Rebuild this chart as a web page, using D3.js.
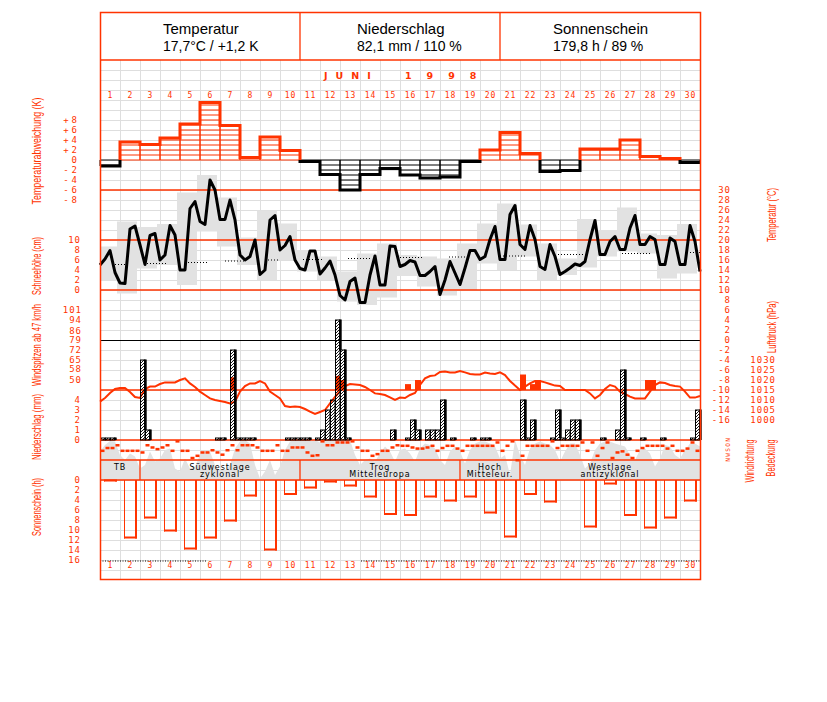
<!DOCTYPE html>
<html><head><meta charset="utf-8">
<script src="https://cdn.jsdelivr.net/npm/d3@7"></script>
<style>body{margin:0;background:#fff}svg{display:block}</style>
</head><body><svg id="c" width="827" height="702"></svg>
<script>
// ---------------- DATA ----------------
const dayLabels = d3.range(1, 31).map(String);
const tempDev = [-1.2, 3.6, 3.1, 4.4, 7.2, 11.5, 6.9, 0.5, 4.6, 1.9, -0.3, -2.9, -6.0, -2.9, -1.7, -3.0, -3.6, -3.4, -0.3, 2.0, 5.5, 1.3, -2.3, -2.1, 2.2, 2.2, 4.0, 0.7, 0.3, -0.5];
const temp6h = [
 15.0,16.2,17.9,13.5, 11.4,11.3,22.2,22.8, 19.0,15.1,20.9,21.3, 16.0,17.0,22.9,21.0, 14.0,14.0,26.3,27.7,
 23.7,23.1,32.0,30.0, 24.1,24.1,28.0,24.0, 17.0,16.0,16.7,20.0, 13.1,14.0,24.0,24.9, 18.0,18.9,20.7,16.0,
 14.3,14.0,17.8,17.8, 13.2,14.4,15.8,13.0, 8.9,8.0,11.7,12.4, 7.5,7.5,13.0,16.8, 11.0,11.0,18.8,18.7,
 14.7,15.1,15.9,15.6, 12.9,12.9,13.7,14.7, 9.1,12.0,15.7,13.4, 11.1,14.4,17.9,17.9, 16.1,16.7,20.1,22.7,
 16.1,16.1,25.1,26.9, 19.1,18.1,22.9,20.1, 14.7,14.1,19.1,16.7, 13.1,13.7,14.4,15.2, 14.9,15.7,20.1,23.9,
 17.1,17.1,19.7,20.7, 18.1,18.1,22.4,24.9, 19.1,19.1,20.7,20.1, 15.1,15.1,20.4,19.7, 15.1,15.1,22.9,19.7,
 13.7];
const tMax = [18.7, 23.7, 22.6, 23.2, 29.5, 33.0, 28.5, 20.5, 25.9, 23.3, 18.0, 16.7, 13.7, 17.3, 19.3, 17.0, 16.7, 16.3, 19.3, 23.3, 27.3, 23.1, 19.3, 16.3, 24.2, 22.0, 26.5, 21.3, 21.0, 23.2];
const tMin = [11.9, 9.3, 14.3, 15.0, 11.0, 21.7, 18.7, 15.0, 12.0, 16.0, 13.7, 12.0, 7.7, 7.0, 8.5, 12.8, 10.7, 8.9, 10.0, 15.3, 14.0, 16.7, 12.0, 13.0, 14.5, 16.7, 17.7, 17.3, 12.3, 13.3];
const normFrom = [0.6, 2.35, 4.4, 6.25, 8.4, 10.15, 12.4, 15.0, 17.45, 20.0, 22.9, 26.1, 29.5];
const normTo   = [1.35, 3.4, 5.35, 7.25, 9.0, 11.15, 13.6, 16.1, 18.5, 21.3, 24.25, 27.6, 30.0];
const normVal  = [15.2, 15.4, 15.6, 15.9, 16.1, 16.2, 16.4, 16.6, 16.7, 16.9, 17.2, 17.4, 17.6];
const precip6h = [
 0.2,0.2,0.2,0, 0,0,0,0, 8,1,0,0, 0,0,0,0, 0,0,0,0,
 0,0,0,0.2, 0.2,0,9,0.2, 0.2,0.2,0.2,0, 0,0,0,0, 0,0.2,0.2,0.2,
 0.2,0.2,0,0.2, 1,3,4,12, 9,0.2,0,0, 0,0,0,0, 0,0,1,0,
 0,0.2,2,1, 0,1,1,1, 4,0,0.2,0, 0,0,0.2,0, 0.2,0.2,0,0,
 0,0,0,0, 4,0.2,2,0, 0,0,0.2,3, 0.2,1,2,2, 0,0,0,0,
 0.2,0,0,1, 7,0.2,0,0, 0.2,0,0,0, 0.2,0,0,0, 0,0,0.2,3];
const gustIdx = [26, 47, 48, 61, 63, 84, 86, 87, 109, 110];
const gustKmh = [52, 53, 50, 47, 50, 54, 47, 50, 50, 50];
const pressure6h = [
 1009.2,1011,1013.5,1015.5,1016,1016,1014,1011.5,1011,1015.5,
 1016.7,1016.7,1018,1018.8,1018.8,1018.8,1020,1020.8,1018.3,1016.5,
 1014.2,1012.5,1010.8,1010,1009.5,1009,1008.3,1009.2,1014.2,1017,
 1018.3,1018.3,1019.5,1018.3,1014.2,1012.5,1010.8,1007,1006.5,1006.7,
 1006.5,1005.5,1004.2,1003,1004,1005,1008.3,1011.5,1014.5,1017,
 1018,1017.8,1017.5,1016.5,1015,1013.3,1013,1012.5,1011.3,1010,
 1011.2,1011,1012.5,1013.5,1017.5,1020.8,1022,1022.3,1024,1024.3,
 1023.8,1023.8,1024.5,1023.8,1023,1022.8,1022.8,1023.7,1023.3,1023,
 1023.8,1022.5,1019.5,1017.2,1015,1016.7,1018.3,1019.5,1019.5,1018.8,
 1018,1017.2,1017,1015,1015,1015,1015,1015,1013.3,1010.8,
 1012.5,1015.5,1017.5,1016.7,1014.2,1013,1011.7,1010.8,1010.8,1010.8,
 1014.2,1017.5,1018.8,1018.5,1017.5,1017,1016.7,1014.2,1011.2,1011.2,
 1012];
const windDir6h = [
 190,140,140,90, 190,190,190,190, 220,90,130,160, 130,90,190,20, 190,190,320,280,
 220,220,180,220, 260,180,90,180, 90,90,90,130, 190,190,190,90, 190,190,130,130,
 130,220,280,270, 20,90,90,40, 40,40,20,130, 190,190,280,250, 190,190,130,90,
 100,100,130,150, 150,130,100,190, 140,100,100,150, 190,100,100,100, 100,100,100,40,
 190,100,20,360, 280,100,100,100, 100,100,20,140, 100,100,100,100, 40,190,40,280,
 140,40,320,220, 200,260,320,190, 140,100,100,100, 100,150,100,190, 190,150,40,190];
const cloud6h = [
 5.7,7,7.8,7.7,5,4,5.3,4.7,2.3,3, 5.7,3.7,4.3,6,6.3,2.3,1.7,4.3,2.3,2.7,
 5,6,5.7,3,1.7,2,3,6.3,7.7,8, 7.3,3,0.3,1.7,4,1,2.7,6,7.7,8,
 8,8,7.8,8,7.5,8,8,8,8,8, 8,5,3,4,4.3,3.7,5.3,6.7,5.7,3.7,
 6,6.3,5.3,3.7,6.3,7.3,7,6.3,4,3, 5.7,6.7,5.7,3.3,6,7.3,7.7,7.7,7.3,6.7,
 4.3,5,1,8,5,3,6.3,7.3,7.7,7.3, 7,6,3.7,5.7,7.3,7.3,5,2.3,3.3,6,
 7.3,7.7,7.7,7.3,7,6.7,5,4,6,6.3, 5.3,2.7,4.3,7,6.7,5,4.3,6,7.3,7.3,
 6.7];
const sunshine = [0.3, 11.7, 7.7, 10.3, 13.9, 11.7, 8.3, 3.3, 14.1, 3.0, 1.7, 0.5, 1.3, 3.5, 7.0, 7.2, 3.5, 4.3, 3.5, 6.7, 11.5, 3.0, 4.5, 0, 9.5, 0.9, 7.2, 9.7, 7.7, 4.3];
const sunMaxFrom = [0, 13.05], sunMaxTo = [5.3, 30], sunMaxVal = 16.2;
const wtLine1 = ["TB", "Südwestlage", "Trog", "Hoch", "Westlage"];
const wtLine2 = ["", "zyklonal", "Mitteleuropa", "Mitteleur.", "antizyklonal"];
const wtStart = [1, 3, 11, 19, 22];
const wtEnd = [2, 10, 18, 21, 30];
const devTicks = [8, 6, 4, 2, 0, -2, -4, -6, -8];
const snowTicks = [10, 8, 6, 4, 2, 0];
const gustTicks = [101, 94, 86, 79, 72, 65, 58, 50];
const precipTicks = [4, 3, 2, 1, 0];
const sunTicks = [0, 2, 4, 6, 8, 10, 12, 14, 16];
const tempTicks = d3.range(30, -17, -2);
const pressTicks = [1030, 1025, 1020, 1015, 1010, 1005, 1000];
const dirLetters = ["N", "O", "S", "W", "N"];
const headTitle = ["Temperatur", "Niederschlag", "Sonnenschein"];
const headValue = ["17,7°C / +1,2 K", "82,1 mm / 110 %", "179,8 h / 89 %"];

// ---------------- SCALES ----------------
const RED = "#ff3300", GRID = "#dedede", BOX = "#e2e2e2";
const MONO = "'DejaVu Sans Mono', monospace";
const svg = d3.select("#c");
const x = d3.scaleLinear().domain([0, 30]).range([100, 700]);
const yDev = d3.scaleLinear().domain([0, 8]).range([160, 120]);
const yT = d3.scaleLinear().domain([30, -16]).range([190, 420]);
const ySnow = d3.scaleLinear().domain([0, 10]).range([290, 240]);
const yGust = d3.scaleLinear().domain([50, 101]).range([380, 310]);
const yPr = d3.scaleLinear().domain([0, 4]).range([440, 400]);
const yP = d3.scaleLinear().domain([1000, 1030]).range([420, 360]);
const yCl = d3.scaleLinear().domain([0, 8]).range([480, 440]);
const yDir = d3.scaleLinear().domain([0, 360]).range([440, 460]);
const ySun = d3.scaleLinear().domain([0, 16]).range([480, 560]);
const xi = i => x(i / 4);

svg.append("rect").attr("width", 827).attr("height", 702).attr("fill", "#fff");
const defs = svg.append("defs");
const pat = defs.append("pattern").attr("id", "hatch").attr("patternUnits", "userSpaceOnUse").attr("width", 3).attr("height", 3);
pat.append("path").attr("d", "M-0.75,0.75L0.75,-0.75M0,3L3,0M2.25,3.75L3.75,2.25").attr("stroke", "#000").attr("stroke-width", 0.9);
defs.append("clipPath").attr("id", "above").append("rect").attr("x", 0).attr("y", 0).attr("width", 827).attr("height", 160);
defs.append("clipPath").attr("id", "below").append("rect").attr("x", 0).attr("y", 160).attr("width", 827).attr("height", 200);

// ---------------- GRID ----------------
const grid = svg.append("g").attr("stroke", GRID).attr("stroke-width", 1);
d3.range(1, 30).forEach(d => grid.append("line").attr("x1", x(d) + 0.5).attr("x2", x(d) + 0.5).attr("y1", 60).attr("y2", 580));
d3.range(70, 580, 10).forEach(y => grid.append("line").attr("x1", 100).attr("x2", 700).attr("y1", y + 0.5).attr("y2", y + 0.5));

// ---------------- TEMPERATURE BOXES ----------------
svg.append("g").selectAll("rect").data(tMax).join("rect")
  .attr("x", (d, i) => Math.max(100, x(i) - 3))
  .attr("width", (d, i) => x(i + 1) - 3 - Math.max(100, x(i) - 3))
  .attr("y", d => yT(d))
  .attr("height", (d, i) => yT(tMin[i]) - yT(d))
  .attr("fill", BOX);

// ---------------- CLOUD COVER ----------------
svg.append("path").datum(cloud6h)
  .attr("d", d3.area().x((d, i) => xi(i)).y0(480).y1(d => yCl(d)))
  .attr("fill", BOX);

// ---------------- RED REFERENCE LINES ----------------
const redL = svg.append("g").attr("stroke", RED).attr("stroke-width", 1.3);
[yT(30), yT(20), yT(10), yT(-10), yPr(0), 460, 480, 60].forEach(y =>
  redL.append("line").attr("x1", 100).attr("x2", 700).attr("y1", y).attr("y2", y));
svg.append("line").attr("x1", 100).attr("x2", 700).attr("y1", yT(0) + 0.5).attr("y2", yT(0) + 0.5).attr("stroke", "#000").attr("stroke-width", 1);

// ---------------- TEMPERATURE DEVIATION ----------------
const devG = svg.append("g");
tempDev.forEach((v, i) => {
  const col = v >= 0 ? RED : "#000";
  const s = v >= 0 ? 1 : -1;
  const n = Math.floor(Math.abs(v) + 1e-9);
  for (let k = 0; k <= n; k++) {
    devG.append("line").attr("x1", x(i)).attr("x2", x(i + 1)).attr("y1", yDev(s * k)).attr("y2", yDev(s * k)).attr("stroke", col).attr("stroke-width", 1);
  }
  [x(i), x(i + 1)].forEach(xx => devG.append("line").attr("x1", xx).attr("x2", xx).attr("y1", yDev(0)).attr("y2", yDev(v)).attr("stroke", col).attr("stroke-width", 1));
});
const stepPts = [];
tempDev.forEach((v, i) => { stepPts.push([x(i), yDev(v)]); stepPts.push([x(i + 1), yDev(v)]); });
const stepLine = d3.line();
devG.append("path").attr("d", stepLine(stepPts)).attr("fill", "none").attr("stroke", RED).attr("stroke-width", 3).attr("clip-path", "url(#above)");
devG.append("path").attr("d", stepLine(stepPts)).attr("fill", "none").attr("stroke", "#000").attr("stroke-width", 3).attr("clip-path", "url(#below)");

// ---------------- NORMALS + TEMPERATURE LINE ----------------
normVal.forEach((v, i) => svg.append("line").attr("x1", x(normFrom[i])).attr("x2", x(normTo[i]))
  .attr("y1", yT(v) + 0.5).attr("y2", yT(v) + 0.5).attr("stroke", "#000").attr("stroke-width", 1).attr("stroke-dasharray", "1,2"));
svg.append("path").datum(temp6h)
  .attr("d", d3.line().x((d, i) => xi(i)).y(d => yT(d)))
  .attr("fill", "none").attr("stroke", "#000").attr("stroke-width", 3).attr("stroke-linejoin", "round");

// ---------------- GUSTS, PRESSURE, PRECIPITATION ----------------
gustIdx.forEach((idx, k) => svg.append("rect").attr("x", xi(idx)).attr("width", 6)
  .attr("y", yGust(gustKmh[k])).attr("height", yT(-10) - yGust(gustKmh[k])).attr("fill", RED));
svg.append("path").datum(pressure6h)
  .attr("d", d3.line().x((d, i) => xi(i)).y(d => yP(d)))
  .attr("fill", "none").attr("stroke", RED).attr("stroke-width", 2);
const prG = svg.append("g");
precip6h.forEach((v, i) => {
  if (v <= 0) return;
  prG.append("rect").attr("x", xi(i) + 0.5).attr("width", 4.5).attr("y", yPr(v)).attr("height", yPr(0) - yPr(v))
    .attr("fill", "url(#hatch)").attr("stroke", "#000").attr("stroke-width", 1);
});
precip6h.forEach((v, i) => {
  const nx = precip6h[i + 1] || 0;
  if (v <= 0 || nx >= v) return;
  prG.append("rect").attr("x", xi(i) + 4).attr("width", 2.7).attr("y", yPr(v) - 0.5).attr("height", yPr(nx) - yPr(v) + 0.5).attr("fill", "#000");
});

// ---------------- WIND DIRECTION ----------------
svg.append("g").selectAll("rect").data(windDir6h).join("rect")
  .attr("x", (d, i) => xi(i) + 0.5).attr("y", d => yDir(d) - 1).attr("width", 4).attr("height", 2.5).attr("fill", RED);

// ---------------- WEATHER TYPES ----------------
const wtG = svg.append("g");
wtStart.forEach((s, k) => {
  if (k > 0) wtG.append("line").attr("x1", x(s - 1)).attr("x2", x(s - 1)).attr("y1", 460).attr("y2", 480).attr("stroke", RED).attr("stroke-width", 1.3);
  const cx = (x(s - 1) + x(wtEnd[k])) / 2;
  wtG.append("text").attr("x", cx).attr("y", 469.5).attr("text-anchor", "middle").attr("font-family", "'DejaVu Sans', sans-serif").attr("font-size", 8).attr("letter-spacing", 0.9).text(wtLine1[k]);
  if (wtLine2[k]) wtG.append("text").attr("x", cx).attr("y", 477).attr("text-anchor", "middle").attr("font-family", "'DejaVu Sans', sans-serif").attr("font-size", 8).attr("letter-spacing", 0.9).text(wtLine2[k]);
});

// ---------------- SUNSHINE ----------------
const sunG = svg.append("g").attr("fill", RED);
sunshine.forEach((h, i) => {
  if (h <= 0) return;
  const x0 = x(i) + 4, x1 = x(i) + 17, yb = ySun(h);
  sunG.append("rect").attr("x", x0).attr("y", 480).attr("width", 1).attr("height", yb - 480);
  sunG.append("rect").attr("x", x1 - 2).attr("y", 480).attr("width", 2).attr("height", yb - 480);
  sunG.append("rect").attr("x", x0).attr("y", yb - 2).attr("width", x1 - x0).attr("height", 2);
});
sunMaxFrom.forEach((f, k) => svg.append("line").attr("x1", x(f)).attr("x2", x(sunMaxTo[k]))
  .attr("y1", ySun(sunMaxVal)).attr("y2", ySun(sunMaxVal)).attr("stroke", "#000").attr("stroke-width", 1).attr("stroke-dasharray", "1,1.5"));

// ---------------- FRAME + HEADER ----------------
svg.append("rect").attr("x", 100.5).attr("y", 12.5).attr("width", 600).attr("height", 567).attr("fill", "none").attr("stroke", RED).attr("stroke-width", 1.5);
[300, 500].forEach(xx => svg.append("line").attr("x1", xx).attr("x2", xx).attr("y1", 12).attr("y2", 60).attr("stroke", RED).attr("stroke-width", 1.3));
const hx = [163, 357, 553];
headTitle.forEach((t, k) => {
  svg.append("text").attr("x", hx[k]).attr("y", 34).attr("font-family", "'Liberation Sans', Arial, sans-serif").attr("font-size", 15).attr("fill", "#000").text(t);
  svg.append("text").attr("x", hx[k]).attr("y", 51).attr("font-family", "'Liberation Sans', Arial, sans-serif").attr("font-size", 14).attr("fill", "#000").text(headValue[k]);
});

// month title
svg.append("text").attr("x", 324).attr("y", 78.5).attr("font-family", "'DejaVu Sans', sans-serif").attr("font-weight", "bold").attr("font-size", 9.5).attr("letter-spacing", 8).attr("fill", RED).text("JUNI");
svg.append("text").attr("x", 405).attr("y", 78.5).attr("font-family", "'DejaVu Sans', sans-serif").attr("font-weight", "bold").attr("font-size", 9.5).attr("letter-spacing", 15).attr("fill", RED).text("1998");

// day labels
[95, 565].forEach(yy => svg.append("g").selectAll("text").data(dayLabels).join("text")
  .attr("x", (d, i) => x(i + 0.5) + 0.5).attr("y", yy).attr("dy", "0.35em").attr("text-anchor", "middle")
  .attr("font-family", MONO).attr("font-size", 8).attr("letter-spacing", 1).attr("fill", RED).text(d => d));

// ---------------- TICK LABELS ----------------
function ticks(vals, scale, xx, fmt, ls) {
  svg.append("g").selectAll("text").data(vals).join("text")
    .attr("x", xx).attr("y", d => scale(d)).attr("dy", "0.36em").attr("text-anchor", "end")
    .attr("font-family", MONO).attr("font-size", 9).attr("letter-spacing", ls == null ? 1 : ls).attr("fill", RED)
    .text(fmt || (d => String(d)));
}
ticks(devTicks, yDev, 80, d => d > 0 ? "+" + d : d < 0 ? "-" + (-d) : "0", 3);
ticks(snowTicks, ySnow, 81);
ticks(gustTicks, yGust, 82);
ticks(precipTicks, yPr, 81);
ticks(sunTicks, ySun, 81);
ticks(tempTicks, yT, 731);
ticks(pressTicks, yP, 776);

// direction letters
dirLetters.forEach((l, k) => svg.append("text").attr("transform", `translate(728,${yDir(k * 90)}) rotate(-90)`)
  .attr("text-anchor", "middle").attr("dy", "0.35em").attr("font-family", MONO).attr("font-size", 6).attr("fill", RED).text(l));

// rotated axis titles
function vlabel(t, cx, cy, len) {
  svg.append("text").attr("transform", `translate(${cx},${cy}) rotate(-90)`).attr("text-anchor", "middle").attr("dy", "0.35em")
    .attr("font-family", "'Liberation Sans', Arial, sans-serif").attr("font-size", 12).attr("fill", RED)
    .attr("textLength", len).attr("lengthAdjust", "spacingAndGlyphs").text(t);
}
vlabel("Temperaturabweichung (K)", 37, 151, 107);
vlabel("Schneehöhe (cm)", 37, 266, 58);
vlabel("Windspitzen ab 47 km/h", 37, 345, 82);
vlabel("Niederschlag (mm)", 37, 427, 66);
vlabel("Sonnenschein (h)", 37, 507, 58);
vlabel("Temperatur (°C)", 772, 215, 54);
vlabel("Luftdruck (hPa)", 772, 327, 52);
vlabel("Windrichtung", 750, 461, 43);
vlabel("Bedeckung", 771, 458, 37);
</script></body></html>
